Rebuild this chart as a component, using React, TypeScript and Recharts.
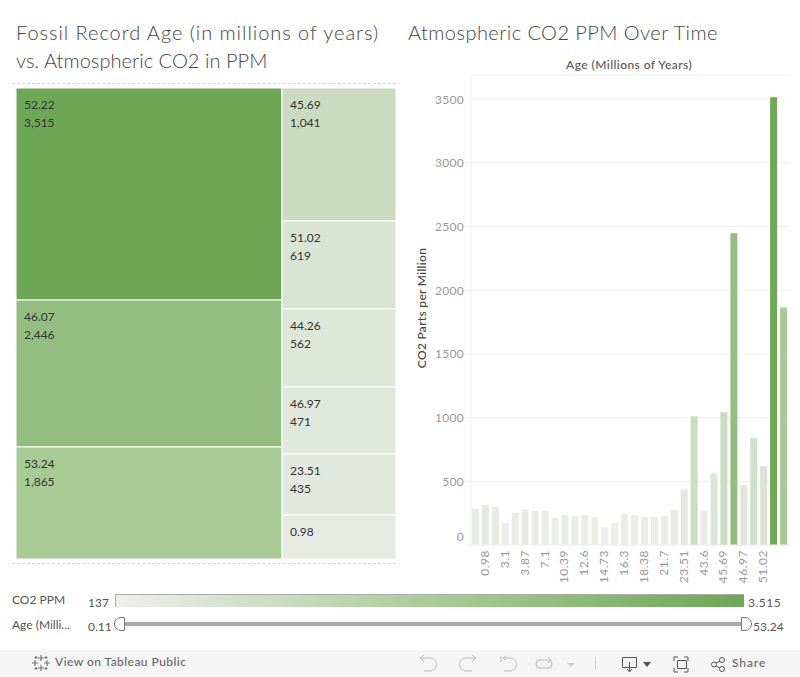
import React from "react";
import { BarChart, Bar, XAxis, YAxis, CartesianGrid, Cell, Treemap } from "recharts";

const ages = ["0.11","0.98","2.0","3.1","3.5","3.87","5.5","7.1","9.0","10.39","11.5","12.6","13.5","14.73","15.5","16.3","17.5","18.38","20.0","21.7","22.5","23.51","33.0","43.6","44.26","45.69","46.07","46.97","49.0","51.02","52.22","53.24"];
const ppmValues = [282,314,298,173,251,282,267,267,212,235,228,235,220,137,173,243,235,220,220,228,275,435,1010,267,562,1041,2446,471,840,619,3515,1865];
const ageTicks = ["0.98","3.1","3.87","7.1","10.39","12.6","14.73","16.3","18.38","21.7","23.51","43.6","45.69","46.97","51.02"];
const ppmTicks = [0,500,1000,1500,2000,2500,3000,3500];

const leftAges = ["52.22","46.07","53.24"];
const leftPpm = [3515,2446,1865];
const rightAges = ["45.69","51.02","44.26","46.97","23.51","0.98"];
const rightPpm = [1041,619,562,471,435,314];
const rightCellSizes = [941,619,555,474,431,311];

const minPpm = 137;
const maxPpm = 3515;
const colorStops: [number, number[]][] = [
  [137, [238,238,236]],
  [1041, [201,220,192]],
  [1865, [168,203,150]],
  [3515, [110,167,86]],
];
const colorFor = (v: number) => {
  let i = 0;
  while (i < colorStops.length - 2 && v > colorStops[i + 1][0]) i++;
  const [a, ca] = colorStops[i];
  const [b, cb] = colorStops[i + 1];
  const t = (v - a) / (b - a);
  const c = ca.map((l, j) => Math.round(l + (cb[j] - l) * t));
  return `rgb(${c[0]},${c[1]},${c[2]})`;
};
const gradient = colorStops
  .map(([v]) => `${colorFor(v)} ${((v - minPpm) / (maxPpm - minPpm)) * 100}%`)
  .join(", ");

const barData = ages.map((age, i) => ({ age, ppm: ppmValues[i] }));
const leftData = leftAges.map((age, i) => ({ name: age, age, ppm: leftPpm[i], size: leftPpm[i] }));
const rightData = rightAges.map((age, i) => ({ name: age, age, ppm: rightPpm[i], size: rightCellSizes[i] }));

const FONT = "Lato, 'Open Sans', sans-serif";
const LAYOUT_W = 40;
const fmt = (n: number) => n.toLocaleString("en-US");

const cellRenderer = (k: number) => (p: any) => {
  if (!p || p.depth === 0 || p.children) return <g />;
  const x = p.x * k;
  const w = p.width * k;
  return (
    <g>
      <rect x={x} y={p.y} width={w} height={p.height} fill={colorFor(p.ppm)} stroke="#fff" strokeWidth={1} />
      <text x={x + 8} y={p.y + 18} fontSize={12} fontFamily={FONT} fill="#333" dominantBaseline="middle">{p.age}</text>
      {p.height > 50 && (
        <text x={x + 8} y={p.y + 36} fontSize={12} fontFamily={FONT} fill="#333" dominantBaseline="middle">{fmt(p.ppm)}</text>
      )}
    </g>
  );
};

const abs = (left: number, top: number): React.CSSProperties => ({ position: "absolute", left, top, whiteSpace: "nowrap" });

const YTick = (p: any) => {
  const v = p.payload.value;
  return (
    <text x={64} y={v === 0 ? p.y - 7 : p.y + 1.5} textAnchor="end" dominantBaseline="middle" fontSize={12} fontFamily={FONT} fill="#999" letterSpacing={0.3}>{v}</text>
  );
};
const XTick = (p: any) => (
  <text x={0} y={0} transform={`translate(${p.x},550) rotate(-90)`} textAnchor="end" dominantBaseline="middle" fontSize={12} fontFamily={FONT} fill="#999" letterSpacing={0.5}>{p.payload.value}</text>
);

const ic = { fill: "none", stroke: "#bbb", strokeWidth: 1 };
const Toolbar = () => (
  <svg width={800} height={27} viewBox="0 650 800 27" style={{ position: "absolute", left: 0, top: 650, background: "#f5f5f5" }}>
    <g stroke="#777" strokeWidth={1.2}>
      <path d="M41 655v6M38 658h6M41 665v6M38 668h6M35 660v6M32 663h6M47 660v6M44 663h6" />
      <path d="M36 656v3M34.500 657.500h3M46 656v3M44.500 657.500h3M36 667v3M34.500 668.500h3M46 667v3M44.500 668.500h3" />
    </g>
    <path {...ic} d="M421 658h9a6 6 0 0 1 0 13h-6M424 655l-4 3 4 3" />
    <path {...ic} d="M475 658h-9a6 6 0 0 0 0 13h6M472 655l4 3-4 3" />
    <path {...ic} d="M503 658h7a6 6 0 0 1 0 13h-6M506 656l-3 2 3 2M501 656v6" />
    <path {...ic} d="M540 660h8a4 4 0 0 1 0 8h-8a4 4 0 0 1 0-8M548 657l3 3-3 3" />
    <path d="M567 663h8l-4 4z" fill="#ccc" />
    <path d="M595.500 657v13" stroke="#ccc" />
    <path d="M622.500 657.500h14v10h-14zM629.500 662v9M627 669l2.500 3 2.500-3" fill="none" stroke="#555" />
    <path d="M643 662h8l-4 5z" fill="#555" />
    <path d="M674 661v-4h4M684 657h4v4M674 668v4h4M684 672h4v-4M677.500 660.500h9v8h-9z" fill="none" stroke="#555" />
    <g fill="none" stroke="#555">
      <circle cx={714} cy={664.500} r={2.500} /><circle cx={722} cy={660} r={2.500} /><circle cx={722} cy={669} r={2.500} />
      <path d="M716 663l4-2M716 666l4 2" />
    </g>
    <text x={732} y={664} dominantBaseline="middle" fontSize={12} fontWeight={500} fontFamily={FONT} fill="#666" letterSpacing={0.9}>Share</text>
    <text x={55} y={663} dominantBaseline="middle" fontSize={12} fontWeight={500} fontFamily={FONT} fill="#666" letterSpacing={0.45}>View on Tableau Public</text>
  </svg>
);

const titleStyle: React.CSSProperties = { fontFamily: FONT, fontWeight: 300, fontSize: 20, color: "#444", lineHeight: "29px" };
const small: React.CSSProperties = { fontFamily: FONT, fontSize: 12, color: "#555", lineHeight: "14px" };

export default function App() {
  return (
    <div style={{ position: "absolute", left: 0, top: 0, width: 800, height: 677, overflow: "hidden", background: "#fff" }}>
      <style>{`.recharts-surface,.recharts-wrapper{overflow:visible !important}`}</style>
      <div style={{ ...abs(16, 18), ...titleStyle, letterSpacing: 0.95 }}>Fossil Record Age (in millions of years)</div>
      <div style={{ ...abs(16, 46), ...titleStyle, letterSpacing: 0.05 }}>vs. Atmospheric CO2 in PPM</div>
      <div style={{ ...abs(408, 18), ...titleStyle, letterSpacing: 0.45 }}>Atmospheric CO2 PPM Over Time</div>
      <div style={{ position: "absolute", left: 12, top: 83, width: 384, borderTop: "1px dashed #d5d5d5" }} />
      <div style={{ position: "absolute", left: 12, top: 563, width: 384, borderTop: "1px dashed #d5d5d5" }} />

      <div style={{ position: "absolute", left: 16, top: 88 }}>
        <Treemap width={LAYOUT_W} height={471} data={leftData} dataKey="size" nameKey="name" aspectRatio={0.001} isAnimationActive={false} content={cellRenderer(266 / LAYOUT_W) as any} />
      </div>
      <div style={{ position: "absolute", left: 282, top: 88 }}>
        <Treemap width={LAYOUT_W} height={471} data={rightData} dataKey="size" nameKey="name" aspectRatio={0.001} isAnimationActive={false} content={cellRenderer(114 / LAYOUT_W) as any} />
      </div>

      <div style={{ position: "absolute", left: 400, top: 0 }}>
        <BarChart width={400} height={677} data={barData} margin={{ top: 75, right: 11, bottom: 92, left: 0 }} barSize={7}>
          <CartesianGrid vertical={false} stroke="#f0f0f0" />
          <XAxis dataKey="age" ticks={ageTicks} interval={0} height={40} axisLine={{ stroke: "#f0f0f0" }} tickLine={false} tick={XTick as any} />
          <YAxis type="number" domain={[0, 3689]} ticks={ppmTicks} width={71} axisLine={{ stroke: "#f0f0f0" }} tickLine={{ stroke: "#f0f0f0" }} tickSize={6} tick={YTick as any} allowDataOverflow />
          <Bar dataKey="ppm" isAnimationActive={false}>
            {barData.map((d) => <Cell key={d.age} fill={colorFor(d.ppm)} />)}
          </Bar>
        </BarChart>
      </div>
      <div style={{ ...abs(566, 58), fontFamily: FONT, fontSize: 12, fontWeight: 500, color: "#555", lineHeight: "14px", letterSpacing: 0.45 }}>Age (Millions of Years)</div>
      <div style={{ position: "absolute", left: 421, top: 308, transform: "translate(-50%,-50%) rotate(-90deg)", whiteSpace: "nowrap", fontFamily: FONT, fontSize: 12, fontWeight: 500, color: "#444", letterSpacing: 0.3 }}>CO2 Parts per Million</div>

      <div style={{ ...abs(12, 593), ...small }}>CO2 PPM</div>
      <div style={{ ...abs(88, 596), ...small }}>137</div>
      <div style={{ position: "absolute", left: 115, top: 594, width: 629, height: 13, boxSizing: "border-box", borderTop: "1px solid #aaa", borderLeft: "1px solid #aaa", background: `linear-gradient(to right, ${gradient})` }} />
      <div style={{ ...abs(748, 596), ...small, letterSpacing: 0.5 }}>3.515</div>
      <div style={{ ...abs(12, 618), ...small }}>Age (Milli...</div>
      <div style={{ ...abs(88, 620), ...small }}>0.11</div>
      <div style={{ position: "absolute", left: 122, top: 622, width: 622, height: 4, background: "#aaa" }} />
      <svg width={800} height={20} style={{ position: "absolute", left: 0, top: 615 }}>
        <path d="M124.500 2.500h-3.500a6 6 0 0 0 0 13h3.500z" fill="#fff" stroke="#777" />
        <path d="M741.500 2.500h3.500a6 6 0 0 1 0 13h-3.500z" fill="#fff" stroke="#777" />
      </svg>
      <div style={{ ...abs(753, 620), ...small }}>53.24</div>

      <Toolbar />
    </div>
  );
}
